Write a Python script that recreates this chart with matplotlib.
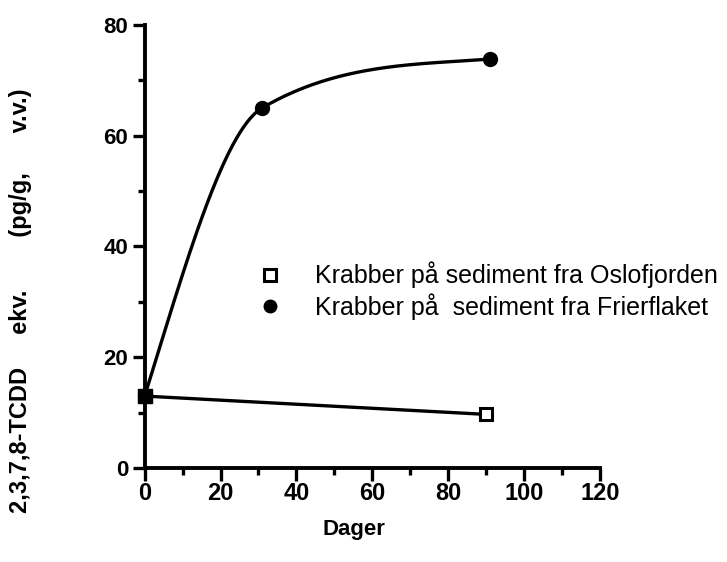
import numpy as np
import matplotlib
matplotlib.use("Agg")
import matplotlib.pyplot as plt
from matplotlib.lines import Line2D
from matplotlib.ticker import MultipleLocator

oslo_days = [0, 90]
oslo_conc = [13.0, 9.7]
frier_days = [0, 31, 91]
frier_conc = [13.0, 65.0, 73.8]

x_ticks = [0, 20, 40, 60, 80, 100, 120]
y_ticks = [0, 20, 40, 60, 80]
legend_labels = ["Krabber på sediment fra Oslofjorden",
                 "Krabber på  sediment fra Frierflaket"]


def smooth_curve(xs, ys, slopes, n=200):
    # cubic hermite through the measured points, hand-set end/knot slopes
    xs = np.asarray(xs, float)
    ys = np.asarray(ys, float)
    m = np.asarray(slopes, float)
    h = np.diff(xs)
    xx = np.linspace(xs[0], xs[-1], n)
    yy = np.empty_like(xx)
    for k, x in enumerate(xx):
        i = min(np.searchsorted(xs, x, side="right") - 1, len(xs) - 2)
        t = (x - xs[i]) / h[i]
        h00 = 2 * t**3 - 3 * t**2 + 1
        h10 = t**3 - 2 * t**2 + t
        h01 = -2 * t**3 + 3 * t**2
        h11 = t**3 - t**2
        yy[k] = h00 * ys[i] + h10 * h[i] * m[i] + h01 * ys[i + 1] + h11 * h[i] * m[i + 1]
    return xx, yy


fig = plt.figure(figsize=(7.27, 5.62), dpi=100)
ax = fig.add_axes([0.199, 0.167, 0.626, 0.789])

fx, fy = smooth_curve(frier_days, frier_conc, [2.2, 0.4, 0.05])
ax.plot(fx, fy, color="black", lw=2.4, zorder=3)
ax.plot(frier_days, frier_conc, "o", color="black", ms=10, zorder=5, clip_on=False)

ax.plot(oslo_days, oslo_conc, color="black", lw=2.4, zorder=3)
ax.plot(oslo_days, oslo_conc, "s", mfc="white", mec="black", mew=2.2, ms=9, zorder=4, clip_on=False)
ax.plot(oslo_days[0], oslo_conc[0], "s", color="black", ms=10, zorder=6, clip_on=False)

ax.set_xlim(0, 120)
ax.set_ylim(0, 80)
ax.set_xticks(x_ticks)
ax.set_yticks(y_ticks)
ax.xaxis.set_minor_locator(MultipleLocator(10))
ax.yaxis.set_minor_locator(MultipleLocator(10))

for s in ["top", "right"]:
    ax.spines[s].set_visible(False)
for s in ["left", "bottom"]:
    ax.spines[s].set_linewidth(2.8)

ax.tick_params(which="major", direction="out", length=9, width=2.4, pad=3)
ax.tick_params(which="minor", direction="out", length=5, width=2.4)
ax.tick_params(axis="x", pad=1, labelsize=17)
ax.tick_params(axis="y", labelsize=16)
for lab in ax.get_xticklabels() + ax.get_yticklabels():
    lab.set_fontweight("bold")
    lab.set_family("Liberation Sans")

ax.set_xlabel("Dager", fontsize=16, fontweight="bold", family="Liberation Sans")
ax.xaxis.set_label_coords(0.46, -0.115)
fig.text(0.028, 0.465, "2,3,7,8-TCDD     ekv.        (pg/g,      v.v.)", rotation=90,
         fontsize=17, fontweight="bold", family="Liberation Sans", ha="center", va="center")

handles = [
    Line2D([], [], marker="s", ls="none", mfc="white", mec="black", mew=2.2, ms=8),
    Line2D([], [], marker="o", ls="none", color="black", ms=9),
]
ax.legend(handles, legend_labels, loc="center left", bbox_to_anchor=(0.22, 0.4),
          frameon=False, handletextpad=1.2, labelspacing=0.2, borderaxespad=0,
          handlelength=1.2, prop={"family": "Liberation Sans", "size": 18})

fig.savefig("out.png", dpi=100)
